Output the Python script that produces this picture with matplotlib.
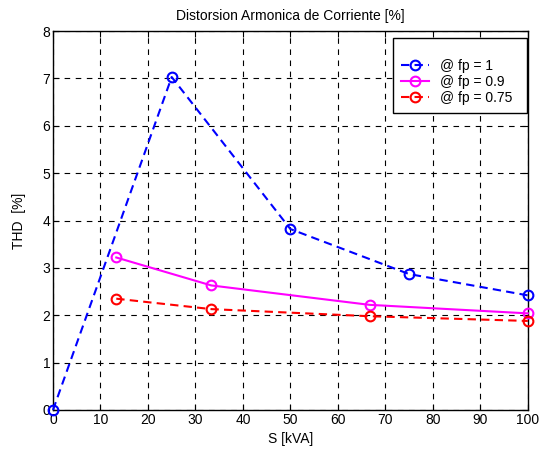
import matplotlib
matplotlib.use("Agg")
import matplotlib.pyplot as plt

plt.rcParams['font.family'] = ['Liberation Sans', 'DejaVu Sans']

x_fp1 = [0, 25, 50, 75, 100]
thd_fp1 = [0, 7.03, 3.82, 2.87, 2.42]
x_fp09 = [13.33, 33.33, 66.67, 100]
thd_fp09 = [3.22, 2.63, 2.22, 2.04]
x_fp075 = [13.33, 33.33, 66.67, 100]
thd_fp075 = [2.35, 2.13, 1.98, 1.88]
labels = ['@ fp = 1', '@ fp = 0.9', '@ fp = 0.75']

fig = plt.figure(figsize=(5.39, 4.5), dpi=100)
ax = fig.add_axes([0.0983, 0.0889, 0.881, 0.842])

common = dict(marker='o', markerfacecolor='none', markersize=7,
              markeredgewidth=1.5, linewidth=1.5, clip_on=False, zorder=3)
ax.plot(x_fp1, thd_fp1, color='#0000ff', linestyle='--', dashes=(4, 2.5),
        label=labels[0], **common)
ax.plot(x_fp09, thd_fp09, color='#ff00ff', linestyle='-',
        label=labels[1], **common)
ax.plot(x_fp075, thd_fp075, color='#ff0000', linestyle='--', dashes=(4, 2.5),
        label=labels[2], **common)

ax.set_xlim(0, 100)
ax.set_ylim(0, 8)
ax.set_xticks(range(0, 101, 10))
ax.set_yticks(range(0, 9))
ax.grid(True, color='black', linestyle=(0, (5, 5)), linewidth=0.8)
ax.tick_params(direction='in', top=True, right=True, labelsize=10, length=4, pad=2)
for s in ax.spines.values():
    s.set_linewidth(1.0)

ax.set_title('Distorsion Armonica de Corriente [%]', fontsize=10, pad=8)
ax.set_xlabel('S [kVA]', fontsize=10, labelpad=4)
ax.set_ylabel('THD  [%]', fontsize=10, labelpad=12)

leg = ax.legend(loc='upper left', bbox_to_anchor=(0.716, 0.0, 0.283, 0.9815),
                mode='expand', borderaxespad=0, fontsize=10,
                fancybox=False, edgecolor='black', framealpha=1,
                handlelength=2.0, borderpad=0.6, labelspacing=0.15,
                title=' ', title_fontsize=7.5)
leg.get_frame().set_linewidth(1.0)

fig.savefig('out.png', dpi=100)
